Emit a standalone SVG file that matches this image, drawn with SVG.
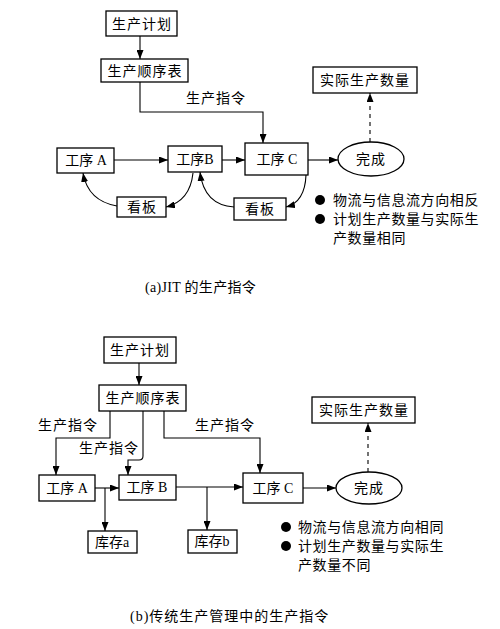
<svg xmlns="http://www.w3.org/2000/svg" width="500" height="629" viewBox="0 0 500 629">
<style>
.box{fill:#fff;stroke:#000;stroke-width:1.3}
.t{font-family:"Liberation Serif","Noto Sans CJK SC",serif;font-size:14px;fill:#000;text-anchor:middle;dominant-baseline:central;letter-spacing:1px}
.tl{font-family:"Liberation Serif","Noto Sans CJK SC",serif;font-size:14px;fill:#000;dominant-baseline:central;letter-spacing:0.6px}
.c{fill:none;stroke:#000;stroke-width:1.1;marker-end:url(#ah)}
.d{fill:none;stroke:#000;stroke-width:1.1;stroke-dasharray:4 4;marker-end:url(#ah)}
</style>
<defs>
<marker id="ah" markerUnits="userSpaceOnUse" markerWidth="9" markerHeight="7" refX="9" refY="3.5" orient="auto">
<path d="M0,0 L9,3.5 L0,7 Z" fill="#000"/>
</marker>
</defs>
<rect width="500" height="629" fill="#fff"/>

<g id="connectors">
<!-- top (a) -->
<path class="c" d="M140,36 V59"/>
<path class="c" d="M140,82 V112 H263 V143"/>
<path class="d" d="M370,142 V93"/>
<path class="c" d="M114,160 H168"/>
<path class="c" d="M222,160 H245"/>
<path class="c" d="M308,160 H338"/>
<path class="c" d="M193,173 Q190,201 166,207"/>
<path class="c" d="M117,206 Q88,201 83,173"/>
<path class="c" d="M306,175 Q305,202 286,207"/>
<path class="c" d="M234,207 Q204,205 200,172"/>
<!-- bottom (b) -->
<path class="c" d="M139,363 V385"/>
<path class="c" d="M110,411 V438 H56 V475"/>
<path class="c" d="M143,411 V456 Q143,460 139,460 H128 V475"/>
<path class="c" d="M164,411 V438 H260 V473"/>
<path class="d" d="M368,472 V423"/>
<path class="c" d="M95,488 H119"/>
<path class="c" d="M105,488 V531"/>
<path class="c" d="M176,487 H243"/>
<path class="c" d="M207,487 V530"/>
<path class="c" d="M303,488 H336"/>
</g>

<g id="label-a">
<text class="t" x="216" y="98">生产指令</text>
</g>
<g id="plan-a"><rect class="box" x="106" y="11" width="71" height="25"/><text class="t" x="142" y="24">生产计划</text></g>
<g id="seq-a"><rect class="box" x="101" y="59" width="87" height="23"/><text class="t" x="145" y="71">生产顺序表</text></g>
<g id="actual-a"><rect class="box" x="313" y="67" width="104" height="26"/><text class="t" x="365" y="80">实际生产数量</text></g>
<g id="procA-a"><rect class="box" x="57" y="148" width="57" height="25"/><text class="t" x="86" y="160" style="letter-spacing:0">工序 A</text></g>
<g id="procB-a"><rect class="box" x="168" y="146" width="54" height="26"/><text class="t" x="195" y="159" style="letter-spacing:0">工序B</text></g>
<g id="procC-a"><rect class="box" x="245" y="143" width="63" height="32"/><text class="t" x="277" y="159" style="letter-spacing:0">工序 C</text></g>
<g id="done-a"><ellipse class="box" cx="371" cy="159" rx="33" ry="17"/><text class="t" x="371" y="159">完成</text></g>
<g id="kanban1"><rect class="box" x="117" y="197" width="49" height="20"/><text class="t" x="142" y="207">看板</text></g>
<g id="kanban2"><rect class="box" x="234" y="198" width="52" height="22"/><text class="t" x="260" y="209">看板</text></g>
<g id="notes-a">
<circle cx="320" cy="200" r="5" fill="#000"/>
<text class="tl" x="333" y="200">物流与信息流方向相反</text>
<circle cx="320" cy="219" r="5" fill="#000"/>
<text class="tl" x="333" y="219">计划生产数量与实际生</text>
<text class="tl" x="333" y="238">产数量相同</text>
</g>
<g id="caption-a"><text class="tl" x="145" y="287" style="letter-spacing:0.3px">(a)JIT 的生产指令</text></g>

<g id="labels-b">
<text class="t" x="68" y="425">生产指令</text>
<text class="t" x="109" y="448">生产指令</text>
<text class="t" x="225" y="425">生产指令</text>
</g>
<g id="plan-b"><rect class="box" x="104" y="337" width="72" height="26"/><text class="t" x="140" y="350">生产计划</text></g>
<g id="seq-b"><rect class="box" x="99" y="385" width="87" height="26"/><text class="t" x="143" y="398">生产顺序表</text></g>
<g id="actual-b"><rect class="box" x="312" y="397" width="103" height="26"/><text class="t" x="364" y="410">实际生产数量</text></g>
<g id="procA-b"><rect class="box" x="39" y="475" width="56" height="26"/><text class="t" x="67" y="488" style="letter-spacing:0">工序 A</text></g>
<g id="procB-b"><rect class="box" x="119" y="475" width="57" height="25"/><text class="t" x="147" y="487" style="letter-spacing:0">工序 B</text></g>
<g id="procC-b"><rect class="box" x="243" y="473" width="60" height="30"/><text class="t" x="273" y="488" style="letter-spacing:0">工序 C</text></g>
<g id="done-b"><ellipse class="box" cx="369" cy="488" rx="33" ry="16"/><text class="t" x="369" y="488">完成</text></g>
<g id="stockA"><rect class="box" x="88" y="531" width="49" height="22"/><text class="t" x="112" y="542" style="letter-spacing:0">库存a</text></g>
<g id="stockB"><rect class="box" x="188" y="530" width="49" height="23"/><text class="t" x="212" y="541" style="letter-spacing:0">库存b</text></g>
<g id="notes-b">
<circle cx="286" cy="527" r="5" fill="#000"/>
<text class="tl" x="298" y="527">物流与信息流方向相同</text>
<circle cx="286" cy="546" r="5" fill="#000"/>
<text class="tl" x="298" y="546">计划生产数量与实际生</text>
<text class="tl" x="298" y="565">产数量不同</text>
</g>
<g id="caption-b"><text class="tl" x="130" y="616" style="letter-spacing:1px">(b)传统生产管理中的生产指令</text></g>
</svg>
